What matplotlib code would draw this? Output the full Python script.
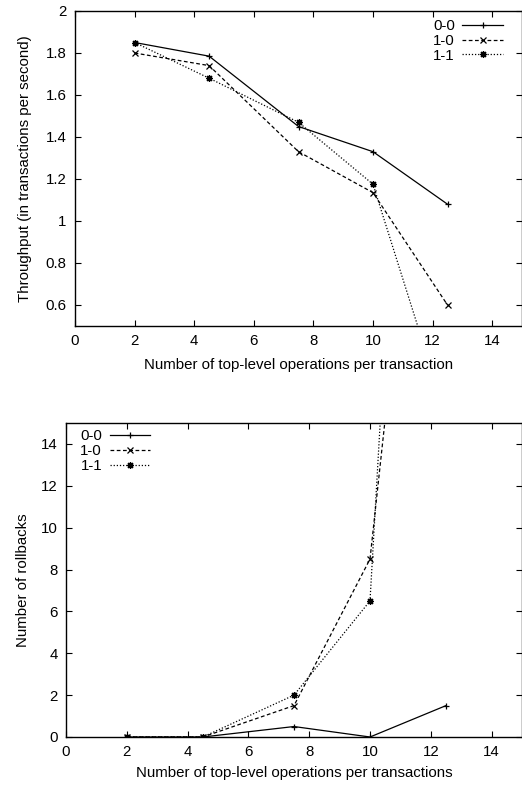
import matplotlib
matplotlib.use('Agg')
import matplotlib.pyplot as plt

plt.rcParams['font.family'] = ['Liberation Sans', 'DejaVu Sans']
FS = 10.8
plt.rcParams['font.size'] = FS

# operations per transaction
ops = [2, 4.5, 7.5, 10, 12.5]

# throughput (transactions per second)
thr_00 = [1.85, 1.785, 1.45, 1.33, 1.08]
thr_10 = [1.80, 1.74, 1.33, 1.135, 0.60]
thr_11 = [1.85, 1.68, 1.47, 1.175, 0.05]

# number of rollbacks
rb_00 = [0, 0, 0.5, 0, 1.5]
rb_10 = [0, 0, 1.5, 8.5, 42]
rb_11 = [0, 0, 2.0, 6.5, 70]

labels = ['0-0', '1-0', '1-1']
styles = [
    dict(linestyle='-', marker='+', markersize=5),
    dict(linestyle=(0, (3, 2)), marker='x', markersize=4),
    dict(linestyle=(0, (1, 1.5)), marker=(8, 2, 0), markersize=5),
]

fig = plt.figure(figsize=(5.22, 7.86), dpi=100)
ax1 = fig.add_axes([75 / 522, 1 - 326 / 786, 447 / 522, 315 / 786])
ax2 = fig.add_axes([66 / 522, 1 - 737 / 786, 456 / 522, 314 / 786])


def style_axes(ax):
    ax.tick_params(direction='in', top=True, right=True, length=4,
                   width=0.8, labelsize=FS, pad=6)
    for s in ax.spines.values():
        s.set_linewidth(1.0)
    ax.set_xlim(0, 15)
    ax.set_xticks(range(0, 15, 2))


for ys, lab, st in zip([thr_00, thr_10, thr_11], labels, styles):
    ax1.plot(ops, ys, color='black', linewidth=0.9, label=lab,
             markeredgewidth=0.9, **st)
style_axes(ax1)
ax1.set_ylim(0.5, 2)
ax1.set_yticks([0.6, 0.8, 1, 1.2, 1.4, 1.6, 1.8, 2])
ax1.set_yticklabels(['0.6', '0.8', '1', '1.2', '1.4', '1.6', '1.8', '2'])
ax1.set_xlabel('Number of top-level operations per transaction', fontsize=FS, labelpad=7)
ax1.set_ylabel('Throughput (in transactions per second)', fontsize=FS, labelpad=10)
ax1.legend(loc='upper right', bbox_to_anchor=(0.957, 0.974), frameon=False,
           markerfirst=False, handlelength=2.7, handletextpad=0.5,
           labelspacing=0.05, borderpad=0, borderaxespad=0, fontsize=FS)

for ys, lab, st in zip([rb_00, rb_10, rb_11], labels, styles):
    ax2.plot(ops, ys, color='black', linewidth=0.9, label=lab,
             markeredgewidth=0.9, **st)
style_axes(ax2)
ax2.set_ylim(0, 15)
ax2.set_yticks(range(0, 15, 2))
ax2.set_xlabel('Number of top-level operations per transactions', fontsize=FS, labelpad=5)
ax2.set_ylabel('Number of rollbacks', fontsize=FS, labelpad=8)
ax2.legend(loc='upper left', bbox_to_anchor=(0.031, 0.98), frameon=False,
           markerfirst=False, handlelength=2.7, handletextpad=0.5,
           labelspacing=0.05, borderpad=0, borderaxespad=0, fontsize=FS)

fig.savefig('out.png', dpi=100, facecolor='white')
